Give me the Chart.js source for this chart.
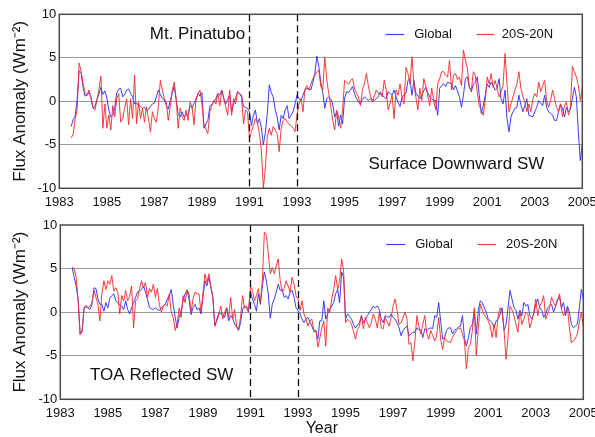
<!DOCTYPE html>
<html><head><meta charset="utf-8">
<script src="https://cdn.jsdelivr.net/npm/chart.js@4.4.1/dist/chart.umd.min.js"></script>
<style>
html,body{margin:0;padding:0;background:#fff;width:595px;height:437px;overflow:hidden}
canvas{position:absolute;left:0}
#c1{top:0}
#c2{top:216px}
</style></head><body>
<canvas id="c1" width="595" height="216"></canvas>
<canvas id="c2" width="595" height="221"></canvas>
<script>
// ---- data (monthly anomalies, Jul 1983 .. Jan 2005) ----
const startYear = 1983.5;
const xTickYears = [1983,1985,1987,1989,1991,1993,1995,1997,1999,2001,2003,2005];
const yTickValues = [-10,-5,0,5,10];
const seriesNames = ['Global','20S-20N'];
const eventYears = [1991,1993];
const panelTitles = ['Surface Downward SW','TOA Reflected SW'];
const eventLabel = 'Mt. Pinatubo';

const surfGlobal = [
 -2.9,-2.1,-1.7,0.2,3.5,3.3,
 1.6,0.6,0.7,1.0,0.5,-0.8,-0.6,0.2,0.8,1.6,0.8,1.2,
 0.4,-1.0,-1.8,-1.6,-0.7,1.0,1.4,1.5,0.5,0.8,1.3,1.4,
 0.9,0.5,-0.3,-0.2,-0.5,-0.6,-0.8,-0.7,-1.1,-0.9,-0.6,-0.3,
 -0.2,0.5,1.3,0.8,0.3,0.2,-0.5,-0.9,0.1,0.9,1.7,0.2,
 -1.5,-1.8,-1.2,-1.8,-1.6,-1.5,-0.5,-0.8,-0.2,0.1,0.9,0.6,
 1.0,-3.1,-2.6,-2.2,-0.6,-0.3,-0.1,0.3,0.9,0.7,1.3,0.4,
 -0.3,0.2,0.7,-1.2,-0.3,0.4,1.1,0.9,0.7,-0.6,-0.7,-0.8,
 -1.2,-2.8,-1.6,-1.0,-2.6,-2.0,-3.0,-5.0,-3.6,-1.4,1.9,1.0,
 0.5,-1.0,-1.8,-3.3,-1.6,-2.0,-1.0,-0.5,-2.0,-1.6,-1.2,-0.3,
 0.7,0.3,0.1,0.7,1.3,1.5,1.4,1.3,2.2,3.2,5.2,4.0,
 2.2,1.0,-0.8,0.3,0.5,0.3,-0.3,-1.8,-1.2,-2.8,-1.6,-2.6,
 0.3,1.1,1.0,1.3,1.7,0.9,0.3,-0.1,-0.3,0.2,0.5,0.3,
 0.1,0.3,0.2,0.1,0.3,0.5,1.1,0.7,0.5,0.3,1.1,0.9,
 0.7,1.3,0.5,-0.1,-0.6,0.5,0.7,0.9,2.4,2.6,0.7,2.4,
 0.9,0.6,0.3,0.7,1.2,1.6,1.0,0.5,0.3,0.1,0.1,-1.6,
 1.5,1.8,2.0,1.7,2.2,2.1,2.0,1.3,1.8,1.2,0.5,-0.7,
 0.7,2.6,2.8,1.7,1.1,2.0,2.2,2.8,0.7,-1.4,-0.5,0.7,
 2.0,1.6,2.2,1.8,1.3,1.5,2.6,0.3,-0.3,1.3,-2.0,-3.5,
 -1.8,-1.2,-0.8,-0.7,0.7,-0.4,-1.2,-0.5,0.3,-1.6,-1.7,-1.8,
 -1.2,-0.7,0.1,-0.2,-0.5,0.7,-0.7,-1.2,-1.4,-1.6,-2.2,-2.2,
 -1.2,-0.3,-0.8,-1.8,-0.7,-1.2,-0.9,0.3,1.6,0.5,-3.5,-6.8,
 -4.9
];
const surfTropics = [
 -4.2,-3.8,-2.0,-1.0,4.4,3.5,
 2.0,1.0,0.7,1.3,0.3,-0.7,-1.0,0.2,1.3,2.9,-3.1,-0.3,
 -3.1,-1.6,-3.3,-0.5,-1.8,0.3,0.9,-2.4,-2.0,-0.8,0.3,-2.7,
 0.3,-2.0,3.0,-2.6,-0.1,-2.0,-0.8,-2.4,-0.6,-2.0,-3.5,-1.2,
 -2.0,-2.4,-0.6,2.4,1.3,0.3,-0.1,-2.2,-0.6,1.3,2.2,0.3,
 -3.1,-0.8,-1.8,-2.2,-1.0,-2.2,-0.1,-0.6,-2.7,0.3,0.8,1.3,
 -0.3,-2.6,-3.2,-3.7,-1.2,-0.5,0.1,-0.3,0.9,-0.5,1.3,0.3,
 -0.6,-1.6,1.3,-1.6,0.3,-0.3,1.1,0.8,0.5,-2.6,-1.0,-1.2,
 -4.3,-3.5,-2.8,-2.0,-2.4,-3.7,-5.6,-10.0,-7.7,-4.1,-3.1,-3.9,
 -2.9,-3.3,-3.7,-5.8,-3.1,-2.2,-2.0,-2.4,-2.6,-2.8,-3.1,-3.5,
 -1.6,-0.3,0.3,-1.2,1.4,1.8,1.3,2.0,2.6,3.0,3.4,3.6,
 1.7,1.3,5.1,2.5,0.9,-0.5,-2.2,-3.3,-1.0,-1.8,-3.1,-1.0,
 2.4,2.2,2.0,2.4,2.6,1.5,0.9,0.5,-0.5,1.3,2.0,3.2,
 1.8,0.7,-0.1,0.6,1.3,0.9,0.9,0.5,2.4,1.3,-1.0,-0.2,
 0.7,-2.0,1.3,0.7,2.0,0.5,-0.3,3.9,3.2,2.0,5.1,2.0,
 0.5,-1.0,1.5,0.1,2.6,1.7,0.6,-0.5,1.5,0.1,-1.0,2.0,
 2.6,3.4,3.4,3.0,2.8,4.7,1.3,3.0,3.2,2.5,2.8,1.8,
 5.9,4.7,3.8,1.5,1.3,3.4,3.0,1.0,-0.5,-1.0,-1.6,0.1,
 2.8,2.0,3.2,1.6,2.4,1.5,0.5,1.1,1.8,5.5,2.0,-1.2,
 -0.3,0.5,1.3,2.0,3.4,1.5,0.6,-0.1,-1.2,-0.3,-1.2,0.2,
 0.9,0.5,2.2,1.1,1.8,2.4,0.1,-0.7,0.1,1.3,0.3,-0.7,
 -1.2,-0.3,-1.8,-0.5,-0.1,-1.6,-0.7,4.0,3.4,2.8,1.8,0.1,
 1.5
];
const toaGlobal = [
 5.1,4.0,3.0,1.5,-2.5,-2.1,
 0.5,0.6,0.5,0.3,0.9,2.8,2.7,1.5,0.9,0.9,0.1,1.1,
 0.5,1.6,1.9,2.1,1.3,1.1,0.8,0.7,0.3,1.3,0.3,-0.2,
 0.5,1.1,1.7,2.3,2.4,2.6,3.0,2.3,1.5,0.5,0.4,0.3,
 0.5,0.3,0.2,0.5,0.7,0.9,1.5,1.9,2.6,0.9,-0.6,-1.8,
 -0.6,0.2,1.3,2.1,2.5,1.5,-0.3,0.5,0.9,0.3,0.5,-0.2,
 1.7,3.6,3.0,4.0,2.8,1.7,-1.6,-0.8,-0.1,-0.2,-0.2,-0.6,
 0.5,-1.0,-0.4,-0.7,-1.4,-1.7,-2.1,-1.2,0.3,0.7,0.5,0.0,
 2.3,1.5,0.9,0.1,2.1,0.9,3.0,4.6,3.6,2.1,-0.7,0.9,
 1.5,2.3,3.2,2.5,2.6,1.7,1.9,1.5,2.3,2.5,1.7,0.5,
 0.2,-0.2,-0.8,-1.2,-0.8,-0.6,-1.1,-1.6,-2.2,-2.2,-3.1,-1.0,
 -1.0,1.3,-0.8,-0.2,0.3,0.7,1.1,2.1,2.6,1.1,4.6,4.0,
 -0.8,-0.2,-0.5,-0.8,-1.4,-1.8,-1.5,-1.2,-0.4,-1.2,-0.8,-0.4,
 0.0,0.3,0.7,0.5,0.7,0.3,-0.8,-1.2,-0.4,-0.5,-0.6,-0.2,
 -0.6,-0.8,-1.2,-1.8,-2.7,-2.1,-1.8,-1.6,-2.7,-2.5,-2.3,-2.3,
 -1.8,-2.0,-2.1,-2.9,-1.9,-2.1,-1.9,-1.8,-1.9,-0.4,-0.6,1.1,
 -1.0,-3.1,-2.9,-2.1,-1.8,-1.8,-2.5,-2.1,-1.9,-1.7,-1.6,-0.4,
 -2.9,-3.9,-2.9,-1.8,-1.4,0.2,-2.5,0.2,1.3,1.1,0.5,0.0,
 -0.8,-1.0,-1.2,-1.8,-1.0,-0.8,-0.2,0.5,-2.1,-1.4,0.5,2.5,
 1.5,0.5,0.2,-0.8,0.2,-0.4,1.1,0.7,0.9,-0.4,-0.8,-0.2,
 0.9,1.5,0.5,0.3,-0.6,-0.2,0.5,0.7,0.9,0.0,0.7,1.5,
 1.7,0.5,1.1,-0.4,0.7,0.0,-1.4,-1.8,-1.6,-1.4,0.5,2.6,
 1.5
];
const toaTropics = [
 5.2,5.0,4.0,1.3,-2.6,-2.3,
 0.5,0.8,0.5,0.7,1.1,2.5,1.7,0.9,-1.0,2.1,3.6,2.6,
 3.6,3.2,4.2,2.4,2.8,2.3,-0.2,1.9,1.3,2.5,1.3,1.8,
 3.0,-1.8,1.3,1.5,2.7,3.6,2.8,3.4,1.7,2.7,2.3,3.2,
 1.7,2.7,0.9,0.0,0.7,0.9,0.7,2.1,0.0,-0.6,-2.1,-1.4,
 0.5,-0.6,1.9,1.1,2.6,2.1,0.0,1.5,2.3,2.1,2.1,0.0,
 2.1,4.4,3.4,4.4,3.0,1.7,-1.6,-1.0,-0.4,0.7,-0.8,0.0,
 0.5,-0.6,1.7,-0.8,0.3,-1.6,-2.0,-0.6,1.9,0.5,0.7,0.2,
 3.0,2.5,1.3,1.9,2.7,1.1,3.6,9.2,8.8,6.7,4.4,5.1,
 4.4,5.3,6.1,3.6,2.3,2.7,3.6,3.0,2.3,4.0,3.2,1.9,
 1.5,0.2,1.3,-0.2,-0.8,-1.6,-1.0,-0.8,-2.2,-2.0,-4.0,-3.0,
 -1.8,-1.0,-3.9,0.5,0.0,1.5,2.6,4.2,2.6,3.6,6.1,4.8,
 -1.2,-0.8,-1.0,-1.4,-2.2,-3.1,-2.0,-1.6,-0.4,-1.9,-0.6,-1.2,
 -1.8,-1.2,-0.2,-0.8,-1.8,0.0,-1.8,-1.9,-0.6,-1.1,-1.6,-0.6,
 0.7,1.5,0.2,-1.4,-1.2,-0.6,0.0,-0.8,-3.7,-3.5,-5.6,-3.3,
 -0.4,-1.6,-2.5,-1.4,-0.4,-2.5,-3.1,-2.1,-2.7,-3.3,-2.7,-0.6,
 -3.1,-4.3,-2.9,-3.3,-3.4,-3.5,-2.9,-2.5,-2.1,-1.9,-1.8,-2.5,
 -3.3,-6.5,-4.1,-3.7,-2.1,0.5,-5.0,-1.9,0.9,0.3,-0.3,-0.6,
 -1.0,-1.6,-2.9,-1.4,-2.9,-0.4,0.5,0.0,-2.1,-5.4,-2.9,0.7,
 0.3,-0.4,-1.4,-2.3,0.2,-1.4,-0.8,0.0,-0.2,-1.8,-1.0,0.0,
 1.5,-0.4,0.7,1.1,1.9,-0.8,-0.2,0.5,1.7,1.1,0.7,1.3,
 2.1,0.3,-0.4,0.0,0.5,-1.8,-3.5,-3.3,-3.0,-2.5,-1.2,0.0,
 -1.6
];

// ---- chart ----
const FONT = "'Liberation Sans', Arial, Helvetica, sans-serif";
const BLUE = 'rgba(45,45,250,0.92)';
const RED = 'rgba(245,45,45,0.92)';
Chart.defaults.font.family = FONT;
Chart.defaults.color = '#111';

function toPoints(arr){ return arr.map((v,i)=>({x: startYear + i/12, y: v})); }

const annotPlugin = {
  id: 'annot',
  afterDatasetsDraw(chart, args, o){
    const {ctx, chartArea:a, scales:{x, y}} = chart;
    ctx.save();
    ctx.strokeStyle = '#111'; ctx.lineWidth = 1.3; ctx.setLineDash([7,4]);
    eventYears.forEach(v => {
      const px = Math.round(x.getPixelForValue(v)) + 0.5;
      ctx.beginPath(); ctx.moveTo(px, a.top); ctx.lineTo(px, a.bottom); ctx.stroke();
    });
    ctx.setLineDash([]);
    ctx.strokeStyle = '#4a4a4a'; ctx.lineWidth = 1.5;
    ctx.strokeRect(a.left, a.top, a.right - a.left, a.bottom - a.top);
    ctx.fillStyle = '#111'; ctx.textBaseline = 'middle';
    o.labels.forEach(l => {
      ctx.font = l.size + 'px ' + FONT;
      ctx.textAlign = l.align;
      ctx.fillText(l.text, x.getPixelForValue(l.x), y.getPixelForValue(l.y));
    });
    ctx.font = '13px ' + FONT; ctx.textAlign = 'left';
    o.legend.forEach((it, i) => {
      const ds = chart.data.datasets.find(d => d.label === seriesNames[i]);
      const py = Math.round(y.getPixelForValue(it.y)) + 0.5;
      ctx.strokeStyle = ds.borderColor; ctx.lineWidth = 1.2;
      ctx.beginPath(); ctx.moveTo(x.getPixelForValue(it.x1), py); ctx.lineTo(x.getPixelForValue(it.x2), py); ctx.stroke();
      ctx.fillStyle = '#111';
      ctx.fillText(seriesNames[i], x.getPixelForValue(it.tx), py);
    });
    ctx.restore();
  }
};

function makeChart(id, gData, rData, cfg){
  return new Chart(document.getElementById(id), {
    type: 'line',
    data: { datasets: [
      { label: seriesNames[1], data: toPoints(rData), borderColor: RED, borderWidth: 1, pointRadius: 0, tension: 0 },
      { label: seriesNames[0], data: toPoints(gData), borderColor: BLUE, borderWidth: 1, pointRadius: 0, tension: 0 }
    ]},
    options: {
      responsive: false, animation: false, devicePixelRatio: 1,
      layout: { padding: { top: cfg.padTop, right: cfg.padRight, left: 0, bottom: 0 } },
      plugins: { legend: { display: false }, tooltip: { enabled: false }, annot: cfg.annot },
      scales: {
        x: {
          type: 'linear', min: 1983, max: 2005,
          afterBuildTicks: s => { s.ticks = xTickYears.map(v => ({ value: v })); },
          ticks: { callback: v => String(v), font: { size: 13 }, color: '#111', padding: 6.5, autoSkip: false, maxRotation: 0 },
          grid: { display: false, drawTicks: false },
          border: { display: false },
          title: cfg.xTitle ? { display: true, text: cfg.xTitle, font: { size: 16, lineHeight: 1 }, color: '#111', padding: { top: 0, bottom: 0 } } : { display: false },
          afterFit: s => { s.height = cfg.xHeight; s.paddingLeft = 0; s.paddingRight = 0; }
        },
        y: {
          min: -10, max: 10,
          afterBuildTicks: s => { s.ticks = yTickValues.map(v => ({ value: v })); },
          ticks: { callback: v => String(v), font: { size: 13 }, color: '#111', padding: 3 },
          grid: { drawTicks: false, lineWidth: 1, color: c => (Math.abs(c.tick.value) === 10 ? 'rgba(0,0,0,0)' : '#9a9a9a') },
          border: { display: false },
          title: { display: true, text: 'Flux Anomaly (Wm⁻²)', font: { size: 17 }, color: '#111', padding: { top: 10, bottom: 0 } },
          afterFit: s => { s.width = cfg.yWidth; s.paddingTop = 0; s.paddingBottom = 0; }
        }
      }
    },
    plugins: [annotPlugin]
  });
}

makeChart('c1', surfGlobal, surfTropics, {
  padTop: 14.3, padRight: 12.7, xHeight: 27.7, yWidth: 59.3, xTitle: null,
  annot: {
    labels: [
      { text: eventLabel, x: 1990.82, y: 7.7, align: 'right', size: 17 },
      { text: panelTitles[0], x: 2003.4, y: -7.25, align: 'right', size: 17 }
    ],
    legend: [
      { x1: 1996.73, x2: 1997.51, tx: 1997.93, y: 7.78 },
      { x1: 2000.56, x2: 2001.29, tx: 2001.61, y: 7.78 }
    ]
  }
});

makeChart('c2', toaGlobal, toaTropics, {
  padTop: 9, padRight: 11.7, xHeight: 37.7, yWidth: 60.3, xTitle: 'Year',
  annot: {
    labels: [
      { text: panelTitles[1], x: 1984.25, y: -7.23, align: 'left', size: 17 }
    ],
    legend: [
      { x1: 1996.71, x2: 1997.51, tx: 1997.93, y: 7.85 },
      { x1: 2000.55, x2: 2001.32, tx: 2001.75, y: 7.85 }
    ]
  }
});
</script>
</body></html>
